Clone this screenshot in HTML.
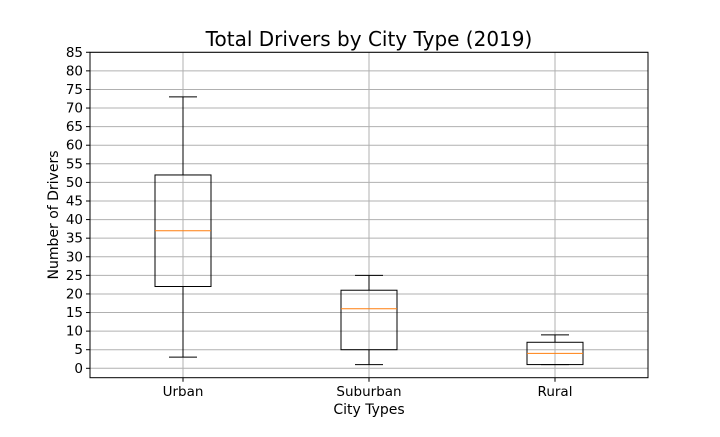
<!DOCTYPE html>
<html><head><meta charset="utf-8"><style>
body{margin:0;background:#fff;font-family:"Liberation Sans","DejaVu Sans",sans-serif}
</style></head><body>
<svg id="chart" width="720" height="432" xmlns="http://www.w3.org/2000/svg" font-family="DejaVu Sans, Liberation Sans, sans-serif">
<rect width="720" height="432" fill="#fff"/>
<g id="grid"></g>
<g id="marks"></g>
<rect x="90" y="52.3" width="558" height="325.4" fill="none" stroke="#000" stroke-width="1"/>
<g id="axes"></g>
<text x="369" y="46" text-anchor="middle" font-size="20">Total Drivers by City Type (2019)</text>
<text x="369" y="414" text-anchor="middle" font-size="14">City Types</text>
<text x="0" y="0" transform="translate(58,215) rotate(-90)" text-anchor="middle" font-size="14">Number of Drivers</text>
</svg>
<script>
const categories=["Urban","Suburban","Rural"];
const whiskerLow=[3,1,1];
const q1=[22,5,1];
const medians=[37,16,4];
const q3=[52,21,7];
const whiskerHigh=[73,25,9];
const yTicks=[0,5,10,15,20,25,30,35,40,45,50,55,60,65,70,75,80,85];
const NS="http://www.w3.org/2000/svg";
const y0=368.3,ppu=3.718;
function y(v){return y0-v*ppu;}
function x(i){return 90+558*(i+0.5)/3;}
function mk(t,a,p){const e=document.createElementNS(NS,t);for(const k in a)e.setAttribute(k,a[k]);p.appendChild(e);return e;}
const grid=document.getElementById('grid'),marks=document.getElementById('marks'),axes=document.getElementById('axes');
yTicks.forEach(v=>{
 const l=mk('line',{x1:90,x2:648,y1:y(v),y2:y(v),stroke:'#b0b0b0','stroke-width':1},grid);
 
 
 const tk=mk('line',{x1:86,x2:90,y1:y(v),y2:y(v),stroke:'#000'},axes);
 
 
 const t=mk('text',{x:83,y:y(v)+4.5,'text-anchor':'end','font-size':13.5},axes);
 t.textContent=v;
 
 
});
categories.forEach((c,i)=>{
 const cx=x(i);
 const g=mk('line',{x1:cx,x2:cx,y1:52.3,y2:377.7,stroke:'#b0b0b0'},grid);
 
 
 const tk=mk('line',{x1:cx,x2:cx,y1:377.7,y2:381.7,stroke:'#000'},axes);
 
 
 const t=mk('text',{x:cx,y:396,'text-anchor':'middle','font-size':13.5},axes);
 t.textContent=c;
 
 
 const bw=28,cw=14;
 const grp=mk('g',{},marks);
 
 
 mk('line',{x1:cx,x2:cx,y1:y(q3[i]),y2:y(whiskerHigh[i]),stroke:'#000'},grp);
 mk('line',{x1:cx,x2:cx,y1:y(q1[i]),y2:y(whiskerLow[i]),stroke:'#000'},grp);
 mk('line',{x1:cx-cw,x2:cx+cw,y1:y(whiskerHigh[i]),y2:y(whiskerHigh[i]),stroke:'#000'},grp);
 mk('line',{x1:cx-cw,x2:cx+cw,y1:y(whiskerLow[i]),y2:y(whiskerLow[i]),stroke:'#000'},grp);
 mk('rect',{x:cx-bw,y:y(q3[i]),width:2*bw,height:y(q1[i])-y(q3[i]),fill:'none',stroke:'#000'},grp);
 mk('line',{x1:cx-bw,x2:cx+bw,y1:y(medians[i]),y2:y(medians[i]),stroke:'#ff7f0e'},grp);
});
</script>
</body></html>
